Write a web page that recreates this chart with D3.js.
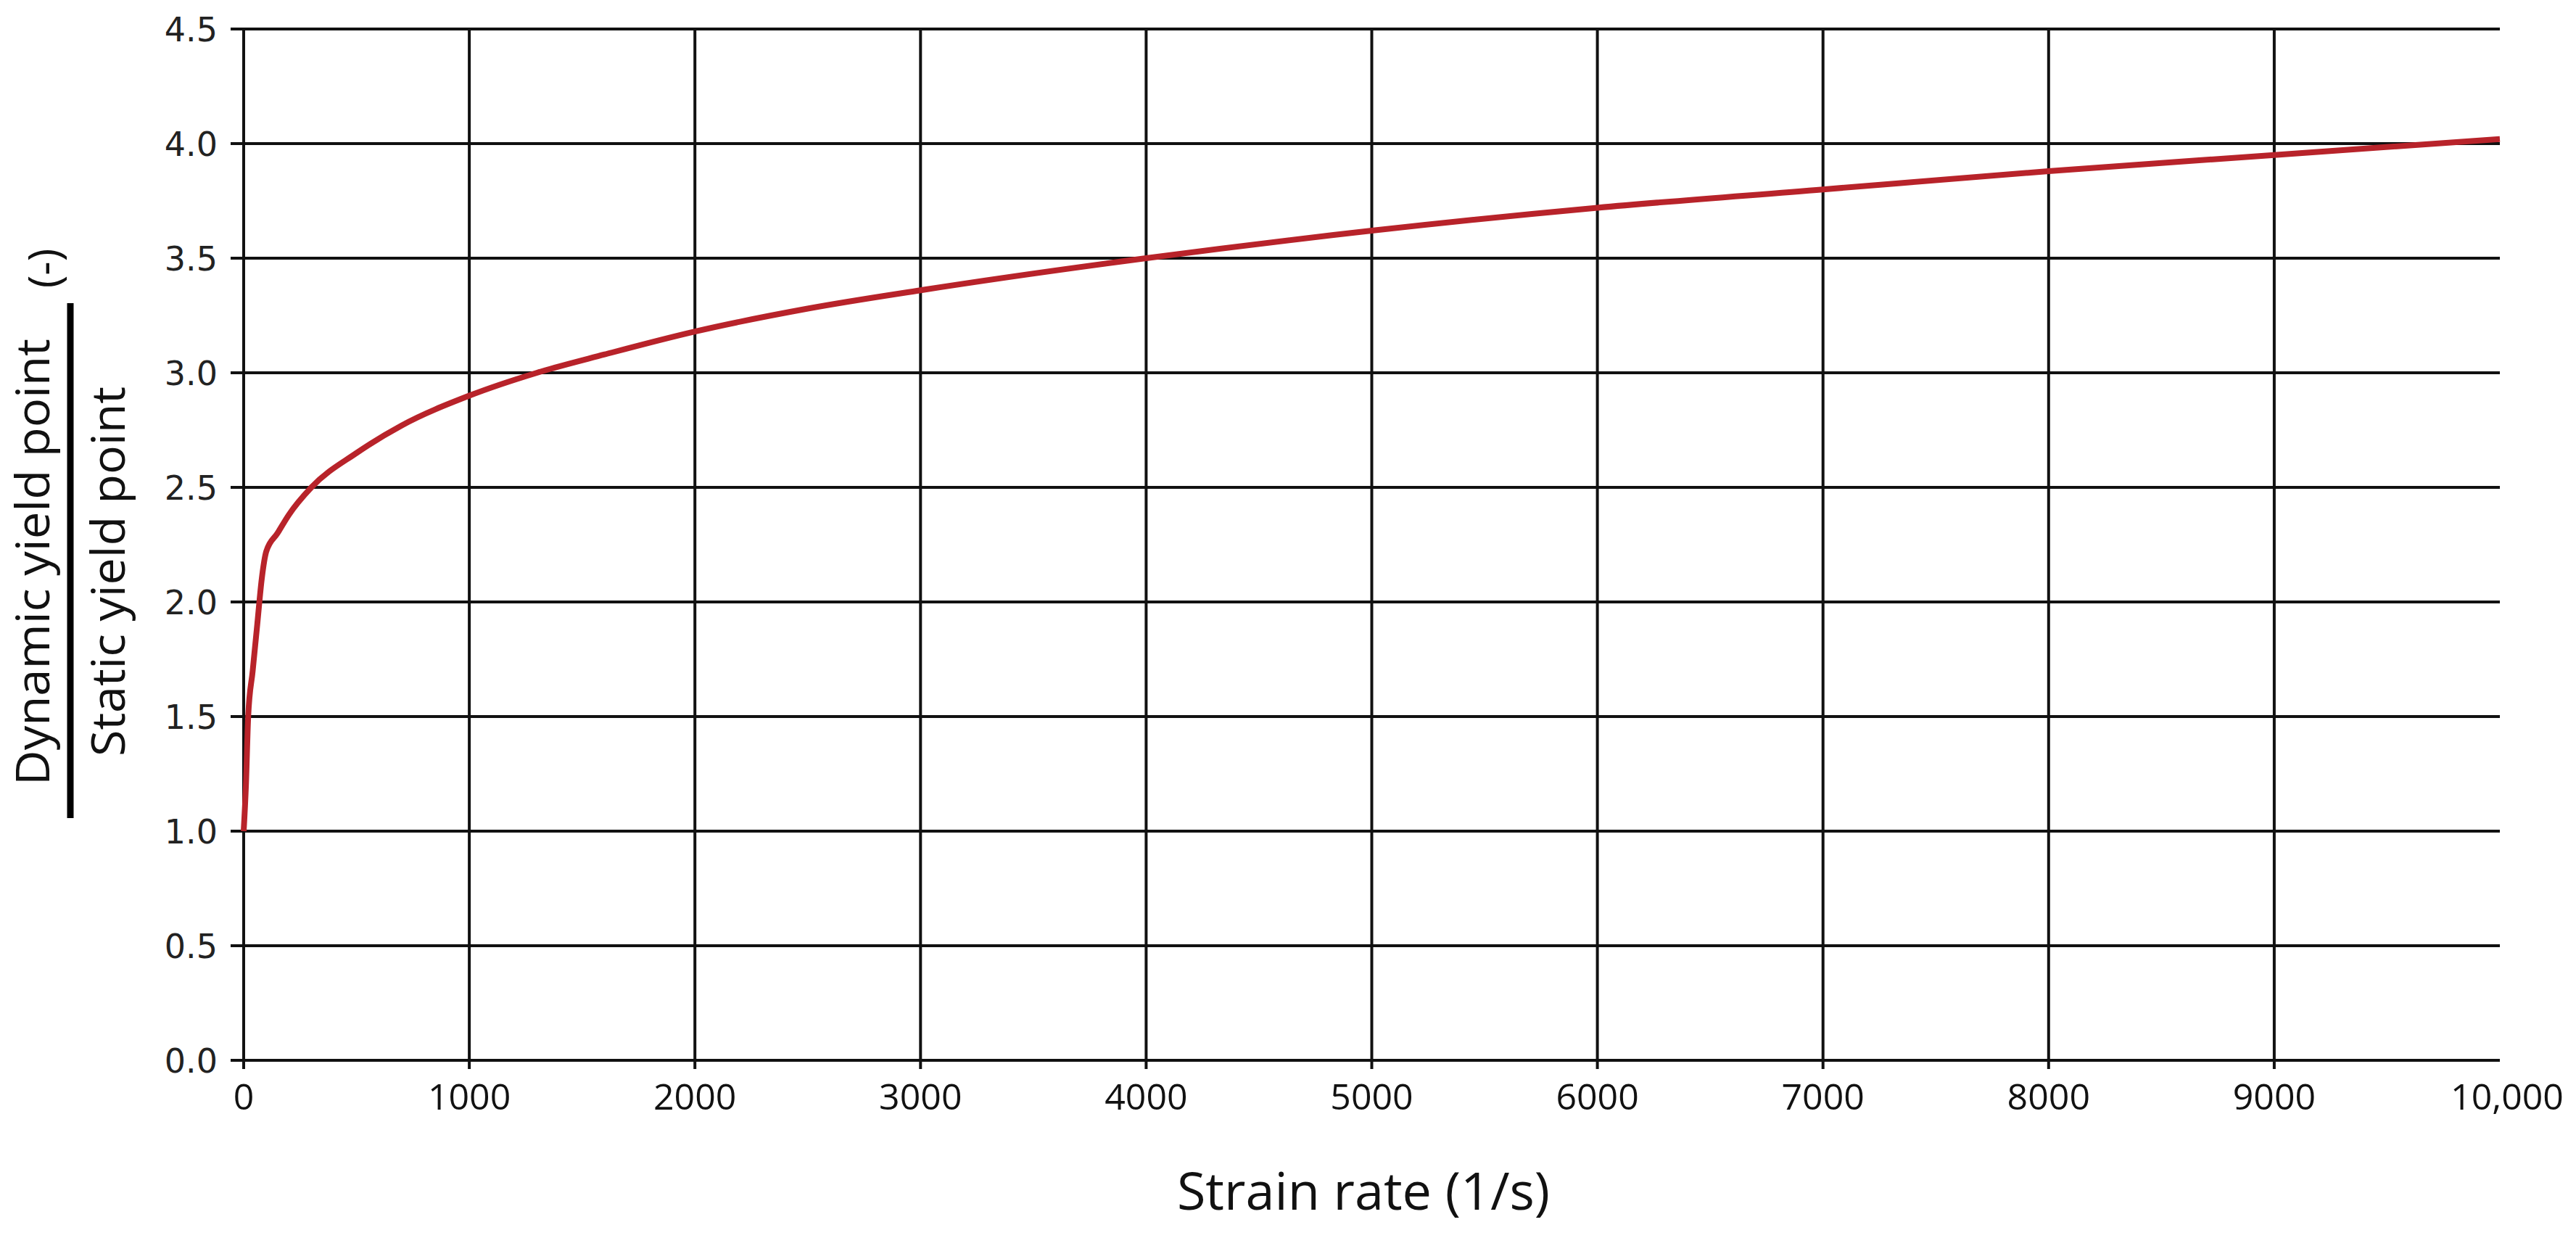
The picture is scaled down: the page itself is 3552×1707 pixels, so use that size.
<!DOCTYPE html>
<html>
<head>
<meta charset="utf-8">
<script src="https://cdn.jsdelivr.net/npm/d3@7"></script>
<style>
body { margin:0; background:#fff; }
</style>
</head>
<body>
<script>
// data
var rates  = [0, 10, 20, 40, 60, 80, 100, 150, 200, 300, 500, 700, 1000, 1300, 1600, 2000, 2500, 3000, 4000, 5000, 6000, 7000, 8000, 9000, 10000];
var ratios = [1.0, 1.2, 1.5, 1.7, 1.9, 2.1, 2.22, 2.3, 2.38, 2.5, 2.65, 2.77, 2.9, 3.0, 3.08, 3.18, 3.28, 3.36, 3.5, 3.62, 3.72, 3.8, 3.88, 3.95, 4.02];
var xTicks = [0, 1000, 2000, 3000, 4000, 5000, 6000, 7000, 8000, 9000, 10000];
var xTickLabels = ["0","1000","2000","3000","4000","5000","6000","7000","8000","9000","10,000"];
var yTicks = [0, 0.5, 1.0, 1.5, 2.0, 2.5, 3.0, 3.5, 4.0, 4.5];

var W = 3552, H = 1707;
var plotLeft = 336, plotRight = 3447, plotTop = 40, plotBottom = 1462;

var svg = d3.select("body").append("svg").attr("width", W).attr("height", H);

var x = d3.scaleLinear().domain([0, 10000]).range([plotLeft, plotRight]);
var y = d3.scaleLinear().domain([0, 4.5]).range([plotBottom, plotTop]);

//grid
svg.append("g").selectAll("line").data(yTicks).enter().append("line")
    .attr("x1", plotLeft - 18).attr("x2", plotRight)
    .attr("y1", function(d) {return y(d)}).attr("y2", function(d) {return y(d)})
    .attr("stroke", "#111").attr("stroke-width", 4);
svg.append("g").selectAll("line").data(xTicks.slice(0, 10)).enter().append("line")
    .attr("x1", function(d) {return x(d)}).attr("x2", function(d) {return x(d)})
    .attr("y1", plotTop).attr("y2", plotBottom + 12)
    .attr("stroke", "#111").attr("stroke-width", 4);

//tick labels
svg.append("g").selectAll("text").data(yTicks).enter().append("text")
    .attr("x", 300).attr("y", function(d) {return y(d) + 17})
    .attr("text-anchor", "end")
    .style("font-family", "DejaVu Sans").style("font-size", "46px").attr("fill", "#222")
    .text(function(d) {return d.toFixed(1)});
svg.append("g").selectAll("text").data(xTicks).enter().append("text")
    .attr("x", function(d, i) {return i == 10 ? 3457 : x(d)}).attr("y", 1530)
    .attr("text-anchor", "middle")
    .style("font-family", "Open Sans").style("font-size", "50px").attr("fill", "#111")
    .text(function(d, i) {return xTickLabels[i]});

//curve
svg.append("path").datum(d3.zip(rates, ratios))
    .attr("d", d3.line().x(function(d) {return x(d[0])}).y(function(d) {return y(d[1])}).curve(d3.curveMonotoneX))
    .attr("fill", "none").attr("stroke", "#b8232a").attr("stroke-width", 8)
    .attr("stroke-linejoin", "round");

//axis titles
svg.append("text").attr("x", 1880).attr("y", 1668).attr("text-anchor", "middle")
    .style("font-family", "Liberation Sans Narrow, Open Sans").style("font-size", "72px").attr("fill", "#111")
    .text("Strain rate (1/s)");

svg.append("text").attr("transform", "translate(68,775) rotate(-90)").attr("text-anchor", "middle")
    .style("font-family", "Liberation Sans Narrow, Open Sans").style("font-size", "64px").attr("fill", "#111")
    .attr("textLength", 616).attr("lengthAdjust", "spacingAndGlyphs")
    .text("Dynamic yield point");
svg.append("line").attr("x1", 97).attr("x2", 97).attr("y1", 418).attr("y2", 1128)
    .attr("stroke", "#000").attr("stroke-width", 9);
svg.append("text").attr("transform", "translate(172,788) rotate(-90)").attr("text-anchor", "middle")
    .style("font-family", "Liberation Sans Narrow, Open Sans").style("font-size", "64px").attr("fill", "#111")
    .attr("textLength", 510).attr("lengthAdjust", "spacingAndGlyphs")
    .text("Static yield point");
svg.append("text").attr("transform", "translate(82,370) rotate(-90)").attr("text-anchor", "middle")
    .style("font-family", "Liberation Sans Narrow, Open Sans").style("font-size", "60px").attr("fill", "#111")
    .text("(-)");
</script>
</body>
</html>
